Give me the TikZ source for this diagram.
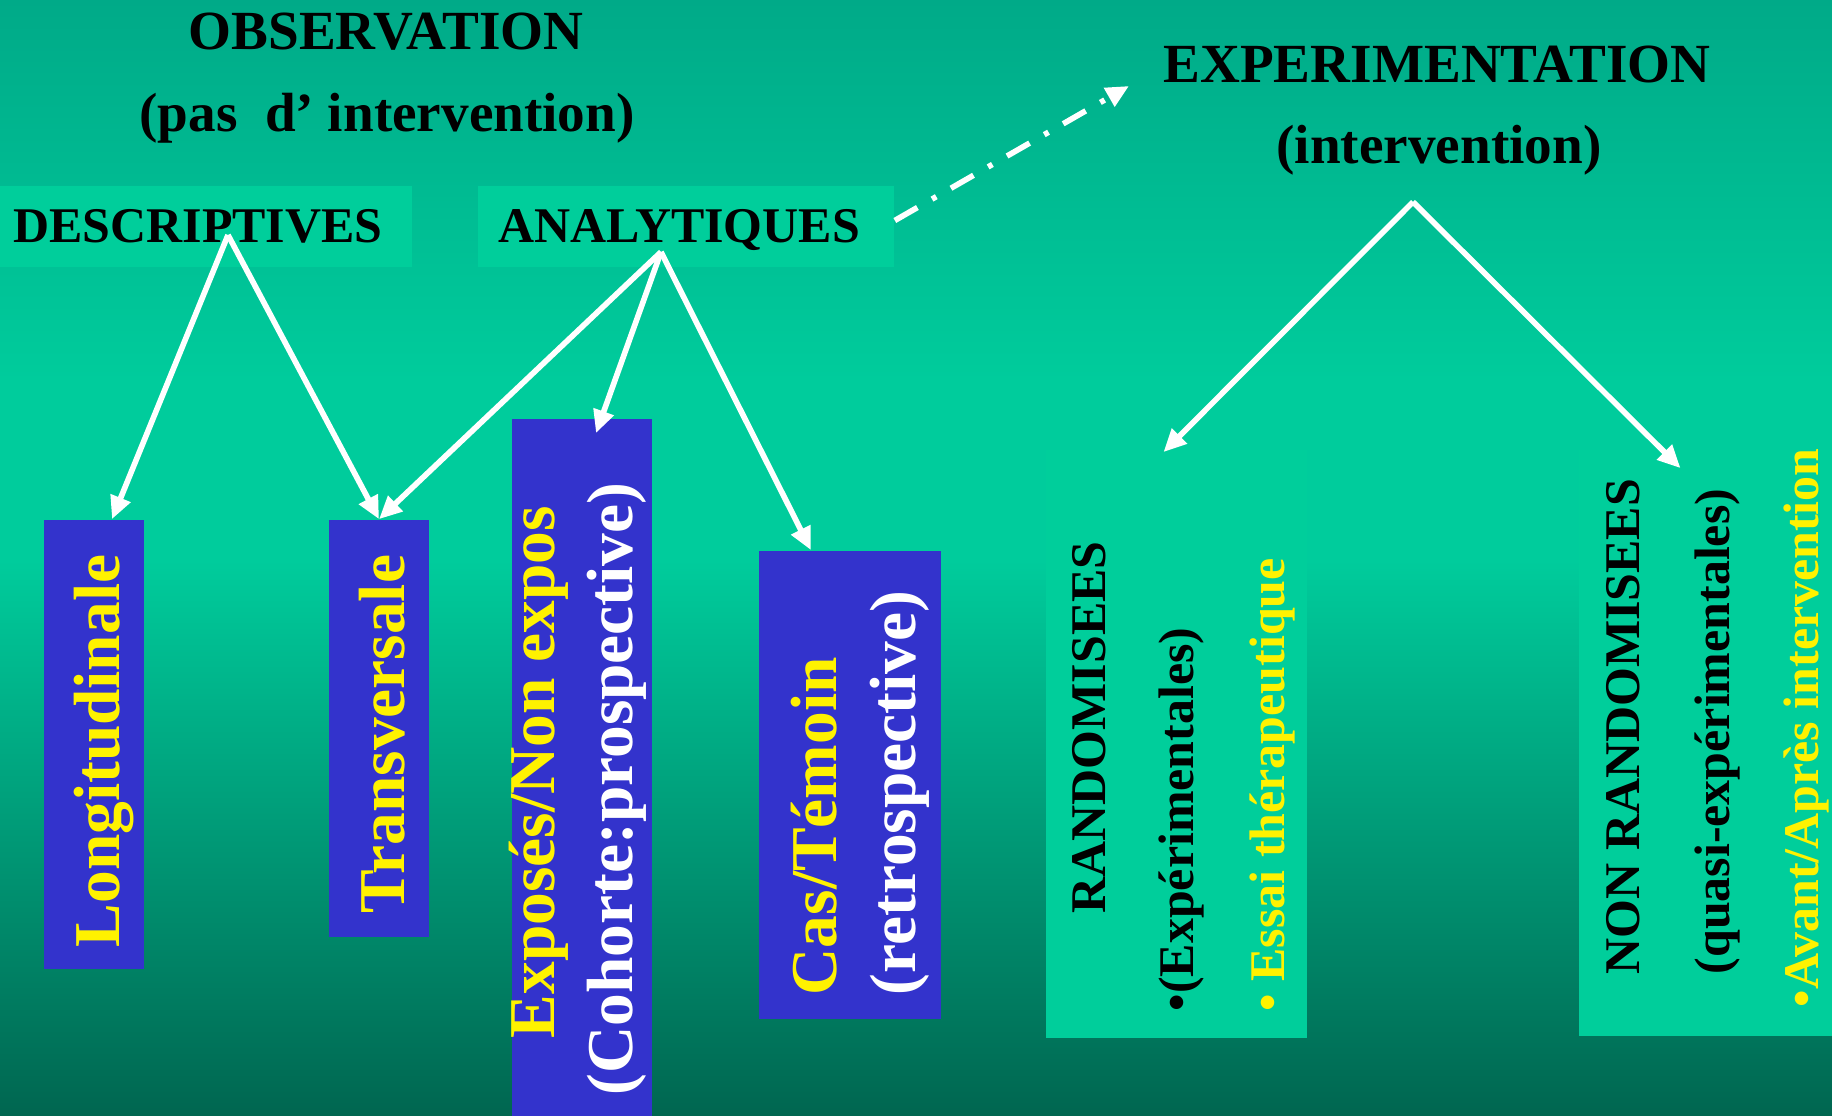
\documentclass[tikz,border=0pt]{standalone}
\usepackage{fontspec}
\setmainfont{Liberation Serif}
\usetikzlibrary{arrows.meta}
\definecolor{bgtop}{RGB}{0,170,136}
\definecolor{bgmid}{RGB}{0,204,156}
\definecolor{bgbot}{RGB}{0,102,80}
\definecolor{boxgreen}{RGB}{0,206,155}
\definecolor{boxblue}{RGB}{51,51,204}

\begin{document}
\begin{tikzpicture}[x=0.01cm, y=-0.01cm,
  title/.style={font=\bfseries\fontsize{15.7}{18}\selectfont, inner sep=0pt, anchor=base},
  head/.style={font=\bfseries\fontsize{14.2}{17}\selectfont, inner sep=0pt, anchor=base},
  bluebox/.style={fill=boxblue, inner sep=0pt},
  greenbox/.style={fill=boxgreen, inner sep=0pt},
  vbig/.style={rotate=90, anchor=base west, inner sep=0pt,
    font=\bfseries\fontsize{18.6}{22}\selectfont},
  vsmall/.style={rotate=90, anchor=base west, inner sep=0pt,
    font=\bfseries\fontsize{14.2}{17}\selectfont},
  arr/.style={white, line width=1.6pt, -{Triangle[length=6.5pt, width=5.8pt]}},
  dashdot/.style={arr, dash pattern=on 7.4pt off 4.8pt on 1.4pt off 4.8pt}
]
  \useasboundingbox (0,0) rectangle (1832,1116);
  \shade[top color=bgtop, bottom color=bgmid] (0,0) rectangle (1832,381);
  \fill[bgmid] (0,380) rectangle (1832,561);
  \shade[top color=bgmid, bottom color=bgbot] (0,560) rectangle (1832,1116);

  \node[greenbox, minimum width=4.12cm, minimum height=0.81cm] (descbox) at (206,226.5) {};
  \node[greenbox, minimum width=4.16cm, minimum height=0.81cm] (analbox) at (686,226.5) {};
  \node[greenbox, minimum width=2.61cm, minimum height=5.88cm] (randbox) at (1176.5,744) {};
  \node[greenbox, minimum width=2.53cm, minimum height=5.86cm] (nonbox) at (1705.5,743) {};
  \node[bluebox, minimum width=1.00cm, minimum height=4.49cm] (longbox) at (94,744.5) {};
  \node[bluebox, minimum width=1.00cm, minimum height=4.17cm] (transbox) at (379,728.5) {};
  \node[bluebox, minimum width=1.40cm, minimum height=6.97cm] (expbox) at (582,767.5) {};
  \node[bluebox, minimum width=1.82cm, minimum height=4.68cm] (casbox) at (850,785) {};

  \node[title] (obs) at (386,50) {OBSERVATION};
  \node[title] (obssub) at (387,132) {(pas~~d’ intervention)};
  \node[title] (exper) at (1437,83) {EXPERIMENTATION};
  \node[title] (expersub) at (1439,164) {(intervention)};
  \node[head] (desc) at (198,243) {DESCRIPTIVES};
  \node[head] (anal) at (679,243) {ANALYTIQUES};

  \node[vbig, yellow] (long) at (119,948) {Longitudinale};
  \node[vbig, yellow] (trans) at (404,914) {Transversale};
  \node[vbig, yellow] (expo) at (554,1039) {Exposés/Non expos};
  \node[vbig, white] (cohort) at (632,1096) {(Cohorte:prospective)};
  \node[vbig, yellow] (cas) at (836,996) {Cas/Témoin};
  \node[vbig, white] (retro) at (915,996) {(retrospective)};

  \node[vsmall] (rand) at (1105,914) {RANDOMISEES};
  \node[vsmall] (randexp) at (1193,1012) {•(Expérimentales)};
  \node[vsmall, yellow] (essai) at (1284,1012) {• Essai thérapeutique};
  \node[vsmall] (nonrand) at (1639,975) {NON RANDOMISEES};
  \node[vsmall] (quasi) at (1729,975) {(quasi-expérimentales)};
  \node[vsmall, yellow] (avant) at (1818,1008) {•Avant/Après intervention};

  \coordinate (dsrc) at (228,235);
  \coordinate (asrc) at (661,252);
  \coordinate (esrc) at (1413,202);
  \coordinate (expend) at (1129,86);

  \draw[arr] (dsrc) -- ([xshift=0.18cm]longbox.north);
  \draw[arr] (dsrc) -- (transbox.north);
  \draw[arr] (asrc) -- (transbox.north);
  \draw[arr] (asrc) -- ([shift={(14,15)}]expbox.north);
  \draw[arr] (asrc) -- ([xshift=-0.39cm]casbox.north);
  \draw[arr] (esrc) -- ([shift={(-13,3)}]randbox.north);
  \draw[arr] (esrc) -- ([shift={(-25,19)}]nonbox.north);
  \draw[dashdot] ([yshift=0.06cm]analbox.east) -- (expend);
\end{tikzpicture}
\end{document}
